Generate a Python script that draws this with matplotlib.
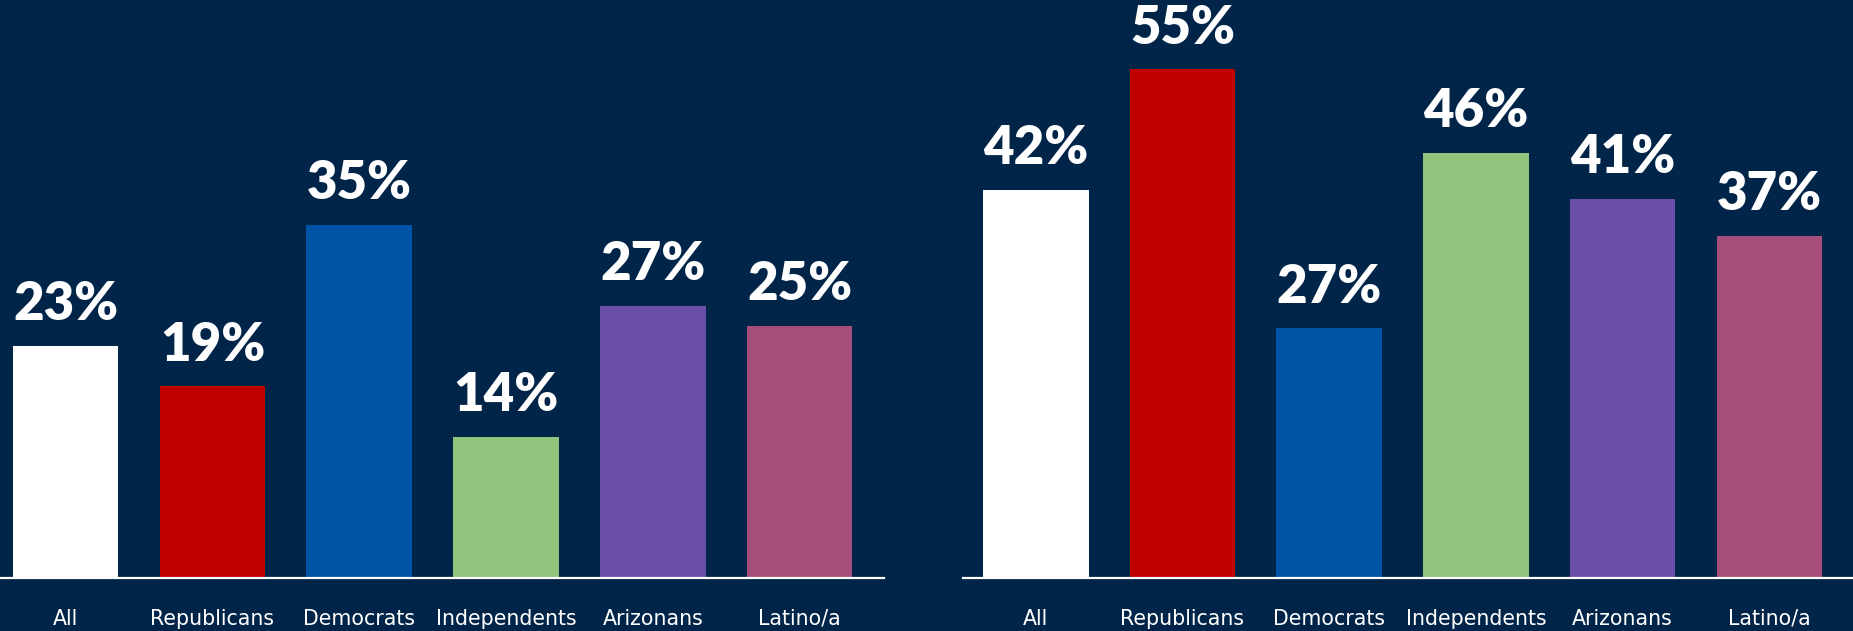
import matplotlib
matplotlib.use("Agg")
import matplotlib.pyplot as plt

categories = ["All", "Republicans", "Democrats", "Independents", "Arizonans", "Latino/a"]
left_values = [23, 19, 35, 14, 27, 25]
right_values = [42, 55, 27, 46, 41, 37]
colors = ["#FFFFFF", "#C00000", "#0054A6", "#93C47D", "#6A4FA8", "#A64D79"]

BG = "#012449"
W, H = 1853, 631
fig = plt.figure(figsize=(W / 100, H / 100), dpi=100, facecolor=BG)

base_px = 578  # baseline from top
bottom = (H - base_px) / H

def panel(left_px, right_px, xlim, ymax, values):
    ax = fig.add_axes([left_px / W, bottom, (right_px - left_px) / W, 1 - bottom])
    ax.set_facecolor("none")
    x = list(range(len(categories)))
    ax.bar(x, values, width=0.72, color=colors, zorder=2)
    ax.set_xlim(*xlim)
    ax.set_ylim(0, ymax)
    for s in ["top", "right", "left"]:
        ax.spines[s].set_visible(False)
    ax.spines["bottom"].set_color("white")
    ax.spines["bottom"].set_linewidth(1.6)
    ax.spines["bottom"].set_zorder(3)
    ax.set_yticks([])
    ax.set_xticks(x)
    ax.set_xticklabels(categories, color="white", fontsize=14.8, family="DejaVu Sans")
    ax.tick_params(axis="x", length=0, pad=22)
    for xi, v in zip(x, values):
        ax.annotate(f"{v}%", (xi, v), xytext=(0, 18.5), textcoords="offset points",
                    ha="center", va="baseline", color="white", fontsize=38,
                    fontweight="heavy", family="Lato", annotation_clip=False)
    return ax

panel(0, 884, (-0.447, 5.575), 57.3, left_values)
panel(963, 1853, (-0.496, 5.57), 62.5, right_values)

fig.savefig("out.png", dpi=100, facecolor=BG)
